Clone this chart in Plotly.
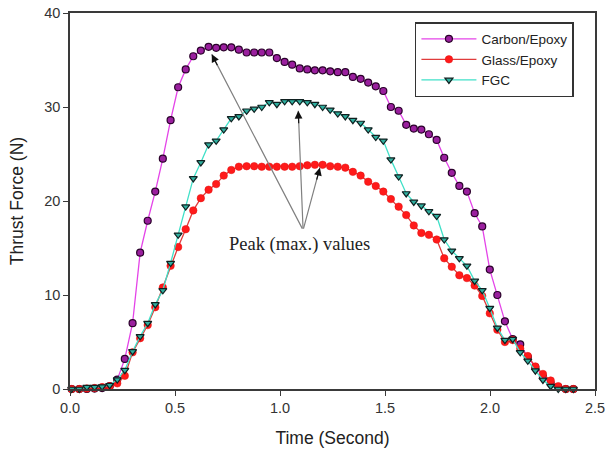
import plotly.graph_objects as go

time_s = [0.008, 0.044, 0.080, 0.117, 0.153, 0.189, 0.225, 0.261, 0.298, 0.334,
          0.370, 0.406, 0.442, 0.479, 0.515, 0.551, 0.587, 0.623, 0.660, 0.696,
          0.732, 0.768, 0.804, 0.841, 0.877, 0.913, 0.949, 0.985, 1.022, 1.058,
          1.094, 1.130, 1.166, 1.203, 1.239, 1.275, 1.311, 1.347, 1.384, 1.420,
          1.456, 1.492, 1.528, 1.565, 1.601, 1.637, 1.673, 1.709, 1.746, 1.782,
          1.818, 1.854, 1.890, 1.927, 1.963, 1.999, 2.035, 2.071, 2.108, 2.144,
          2.180, 2.216, 2.252, 2.289, 2.325, 2.361, 2.397]

carbon_epoxy = [0.0, 0.0, 0.0, 0.05, 0.1, 0.3, 1.0, 3.2, 7.0, 14.5,
                17.9, 21.0, 24.5, 28.6, 32.1, 34.0, 35.4, 36.0, 36.4, 36.3,
                36.35, 36.35, 36.1, 35.8, 35.8, 35.8, 35.8, 35.2, 34.8, 34.5,
                34.1, 34.0, 33.9, 33.9, 33.8, 33.7, 33.7, 33.2, 33.0, 32.6,
                32.2, 31.7, 30.0, 29.6, 28.1, 27.7, 27.6, 27.1, 26.5, 24.6,
                23.0, 21.6, 21.0, 18.7, 17.3, 12.7, 10.0, 7.2, 5.3, 4.75,
                3.4, 2.3, 1.3, 0.6, 0.2, 0.0, 0.0]

glass_epoxy = [0.0, 0.0, 0.05, 0.1, 0.2, 0.3, 0.6, 1.4, 3.9, 5.4,
               6.8, 8.7, 10.8, 13.1, 15.1, 17.0, 19.0, 20.3, 21.2, 21.8,
               22.7, 23.3, 23.65, 23.7, 23.7, 23.65, 23.65, 23.65, 23.65, 23.65,
               23.7, 23.8, 23.85, 23.85, 23.7, 23.65, 23.55, 23.1, 22.7, 22.05,
               21.6, 21.0, 20.2, 19.4, 18.5, 17.4, 16.6, 16.4, 15.9, 13.9,
               13.0, 12.1, 11.8, 11.0, 9.9, 8.05, 6.3, 5.0, 5.2, 4.3,
               3.5, 2.4, 1.6, 0.9, 0.3, 0.0, 0.0]

fgc = [0.0, 0.0, 0.2, 0.2, 0.25, 0.4, 1.0, 2.0, 4.0, 5.6,
       7.0, 9.0, 10.5, 13.4, 16.4, 19.4, 22.4, 24.1, 26.0, 26.4,
       27.6, 28.8, 29.0, 29.6, 29.8, 30.0, 30.5, 30.3, 30.6, 30.6,
       30.6, 30.5, 30.3, 30.0, 29.7, 29.3, 29.0, 28.6, 28.3, 27.6,
       26.8, 26.4, 24.4, 22.6, 20.8, 19.9, 19.5, 18.9, 18.4, 15.9,
       14.7, 13.9, 13.1, 11.5, 10.5, 8.6, 6.5, 5.2, 5.3, 3.9,
       3.0, 1.95, 0.96, 0.3, 0.0, 0.0, 0.0]

x_ticks = [0.0, 0.5, 1.0, 1.5, 2.0, 2.5]
y_ticks = [0, 10, 20, 30, 40]

# annotation anchor points (data units)
label_text = "Peak (max.) values"
label_pos = (1.095, 15.4)
arrow_tail = (1.11, 16.9)
peak_tips = [(0.675, 35.6), (1.087, 29.6), (1.19, 23.55)]
head_offsets = [(6.4, 12.4), (0.5, 14.0), (-3.6, 13.5)]

SANS = "Liberation Sans, Arial, sans-serif"

fig = go.Figure()
fig.add_trace(go.Scatter(
    x=time_s, y=carbon_epoxy, name="Carbon/Epoxy", mode="lines+markers",
    line=dict(color="#e444e8", width=1.3),
    marker=dict(symbol="circle", size=7, color="#9a1f9e",
                line=dict(color="#2a002a", width=1.2)),
    cliponaxis=False))
fig.add_trace(go.Scatter(
    x=time_s, y=glass_epoxy, name="Glass/Epoxy", mode="lines+markers",
    line=dict(color="#e03c3c", width=1.3),
    marker=dict(symbol="circle", size=7.5, color="#ff1a1a",
                line=dict(color="#e01010", width=0.5)),
    cliponaxis=False))
fig.add_trace(go.Scatter(
    x=time_s, y=fgc, name="FGC", mode="lines+markers",
    line=dict(color="#40e0c8", width=1.3),
    marker=dict(symbol="triangle-down", size=7, color="#2fb0a0",
                line=dict(color="#102020", width=1.2)),
    cliponaxis=False))

annotations = [dict(x=label_pos[0], y=label_pos[1], xref="x", yref="y",
                    text=label_text, showarrow=False,
                    font=dict(family="Liberation Serif, Times New Roman, serif",
                              size=18.5, color="#222"))]
for (tx, ty), (ox, oy) in zip(peak_tips, head_offsets):
    annotations.append(dict(x=tx, y=ty, xref="x", yref="y",
                            ax=arrow_tail[0], ay=arrow_tail[1], axref="x", ayref="y",
                            showarrow=True, arrowhead=0, arrowwidth=1.2,
                            arrowcolor="#808080", text=""))
    annotations.append(dict(x=tx, y=ty, xref="x", yref="y",
                            ax=ox, ay=oy, showarrow=True, arrowhead=2,
                            arrowsize=1.3, arrowwidth=1.2,
                            arrowcolor="#111", text=""))

axis_common = dict(showgrid=False, zeroline=False, showline=True,
                   linecolor="#3a3a3a", linewidth=1.5, mirror=True,
                   ticks="outside", ticklen=5, tickwidth=1.2, tickcolor="#3a3a3a",
                   ticklabeloverflow="allow", automargin=False,
                   tickfont=dict(family=SANS, size=14.5, color="#333"))

fig.update_layout(
    width=613, height=453,
    margin=dict(l=70, r=18, t=13, b=64, autoexpand=False),
    paper_bgcolor="white", plot_bgcolor="white",
    showlegend=True,
    legend=dict(x=0.657, y=0.976, xanchor="left", yanchor="top",
                bgcolor="white", bordercolor="#333", borderwidth=1.5,
                font=dict(family=SANS, size=13.5, color="#222"),
                tracegroupgap=0, itemwidth=55),
    annotations=annotations,
)
fig.update_xaxes(range=[0, 2.5], tickvals=x_ticks,
                 ticktext=[f"{v:.1f}" for v in x_ticks],
                 title=dict(text="Time (Second)", standoff=17,
                            font=dict(family=SANS, size=17.5, color="#222")),
                 **axis_common)
fig.update_yaxes(range=[0, 40], tickvals=y_ticks,
                 title=dict(text="Thrust Force (N)", standoff=16,
                            font=dict(family=SANS, size=17.5, color="#222")),
                 **axis_common)

fig.write_html("out.html",
               config={"displayModeBar": False},
               post_script="document.body.style.margin='0px';"
                           "document.body.style.overflow='hidden';")
